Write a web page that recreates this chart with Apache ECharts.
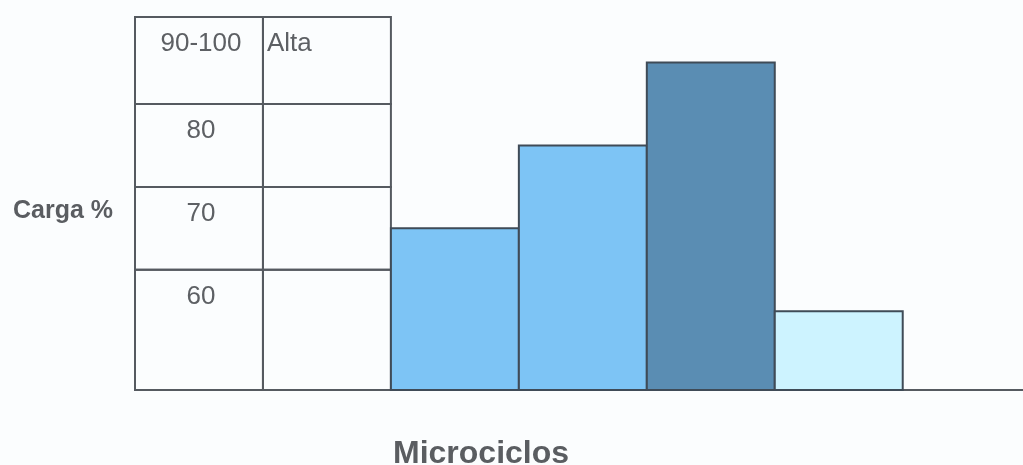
<!DOCTYPE html>
<html>
<head>
<meta charset="utf-8">
<script src="https://cdn.jsdelivr.net/npm/echarts@6/dist/echarts.min.js"></script>
<style>
  html, body { margin: 0; padding: 0; background: #fbfdfe; }
  #chart { width: 1023px; height: 465px; }
</style>
</head>
<body>
<div id="chart"></div>
<script>
// Load bands of the reference table (bottom to top)
const levelLabels = ['60', '70', '80', '90-100'];
const levelFloor = [45.5, 60, 70, 80];
const levelCeil = [60, 70, 80, 90.5];
const intensityLabels = ['', '', '', 'Alta'];

// Load (%) of each microcycle
const cargaValues = [65, 75, 85, 55];
// Column where each microcycle starts (table takes columns 0 and 1)
const cargaColumns = [2, 3, 4, 5];

// Value range of the load axis
const loadMin = 45.5;
const loadMax = 90.5;

const FONT = "'Liberation Sans', Arial, sans-serif";
const LINE = '#555a60';
const barFills = ['#7dc4f5', '#7dc4f5', '#5a8db3', '#cdf3ff'];

// Table cells: [colStart, colEnd, floor, ceil, rowIndex]
const tableData = [];
levelLabels.forEach((_, r) => {
  tableData.push([0, 1, levelFloor[r], levelCeil[r], r]);
  tableData.push([1, 2, levelFloor[r], levelCeil[r], r]);
});

const barData = cargaValues.map((v, i) => [cargaColumns[i], cargaColumns[i] + 1, v]);

const chart = echarts.init(document.getElementById('chart'), null, { renderer: 'canvas' });

chart.setOption({
  backgroundColor: '#fbfdfe',
  animation: false,
  grid: { left: 135, right: 0, top: 17, bottom: 75 },
  xAxis: {
    type: 'value',
    min: 0,
    max: 6.94,
    axisLine: { show: true, onZero: false, lineStyle: { color: LINE, width: 2 } },
    axisTick: { show: false },
    axisLabel: { show: false },
    splitLine: { show: false }
  },
  yAxis: {
    type: 'value',
    min: loadMin,
    max: loadMax,
    show: false,
    splitLine: { show: false }
  },
  graphic: [
    {
      type: 'text', left: 13, top: 199,
      style: { text: 'Carga %', font: 'bold 25px ' + FONT, fill: '#5a5d61' }
    },
    {
      type: 'text', left: 393, top: 438,
      style: { text: 'Microciclos', font: 'bold 32px ' + FONT, fill: '#5a5d61' }
    }
  ],
  series: [
    {
      type: 'custom',
      name: 'tabla',
      data: tableData,
      z: 2,
      renderItem: function (params, api) {
        const tl = api.coord([api.value(0), api.value(3)]);
        const br = api.coord([api.value(1), api.value(2)]);
        const col = api.value(0);
        const row = api.value(4);
        const text = col === 0 ? levelLabels[row] : intensityLabels[row];
        const children = [{
          type: 'rect',
          shape: { x: tl[0], y: tl[1], width: br[0] - tl[0], height: br[1] - tl[1] },
          style: { fill: 'rgba(0,0,0,0)', stroke: LINE, lineWidth: 2 }
        }];
        if (text) {
          children.push({
            type: 'text',
            x: col === 0 ? (tl[0] + br[0]) / 2 + 2 : tl[0] + 4,
            y: tl[1] + 14,
            style: {
              text: text,
              font: '26px ' + FONT,
              fill: '#5d6064',
              align: col === 0 ? 'center' : 'left',
              verticalAlign: 'top'
            }
          });
        }
        return { type: 'group', children: children };
      }
    },
    {
      type: 'custom',
      name: 'Carga',
      data: barData,
      z: 3,
      renderItem: function (params, api) {
        const tl = api.coord([api.value(0), api.value(2)]);
        const br = api.coord([api.value(1), loadMin]);
        return {
          type: 'rect',
          shape: { x: tl[0], y: tl[1], width: br[0] - tl[0], height: br[1] - tl[1] },
          style: { fill: barFills[params.dataIndex], stroke: '#3f4b57', lineWidth: 2 }
        };
      }
    }
  ]
});
</script>
</body>
</html>
